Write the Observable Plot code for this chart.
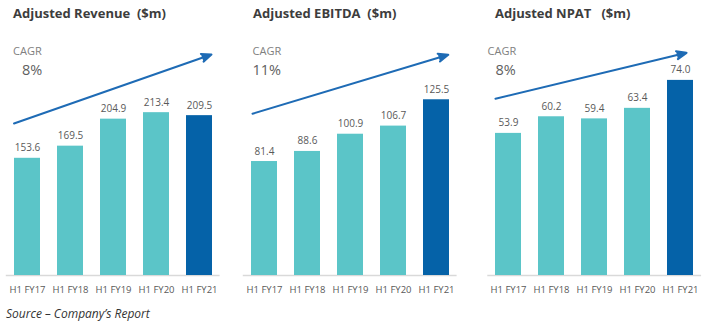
<!DOCTYPE html>
<html><head><meta charset="utf-8">
<script src="https://cdn.jsdelivr.net/npm/d3@7"></script>
<script src="https://cdn.jsdelivr.net/npm/@observablehq/plot@0.6"></script>
<style>
body{margin:0;background:#fff;}
#wrap{position:relative;width:708px;height:324px;overflow:hidden;font-family:"Open Sans",sans-serif;}
#wrap svg{position:absolute;left:0;top:0;overflow:visible;}
</style></head><body><div id="wrap"></div>
<script>
// ---- data ----
const periods = ["H1 FY17", "H1 FY18", "H1 FY19", "H1 FY20", "H1 FY21"];
const revenue = [153.6, 169.5, 204.9, 213.4, 209.5];
const ebitda  = [81.4, 88.6, 100.9, 106.7, 125.5];
const npat    = [53.9, 60.2, 59.4, 63.4, 74.0];
const titles  = ["Adjusted Revenue  ($m)", "Adjusted EBITDA  ($m)", "Adjusted NPAT   ($m)"];
const cagrLabel = "CAGR";
const cagrValues = ["8%", "11%", "8%"];
// trend-arrow annotation, in each panel's value units (first → last period)
const arrowFrom = [205.4, 118.1, 68.2];
const arrowTo   = [284.1, 155.1, 83.9];
const source = "Source \u2013 Company\u2019s Report";

// ---- layout ----
const W = 708, H = 324;
const teal = "#5BC5C8", navy = "#0562A8", arrowColor = "#1E6BB5";
const panels = [
  {values: revenue, left: 5.8,   right: 219.6, yMax: 360.4, insS: 14.3, insE: 12.7, tx: 13,  cx: 13,  vx: 22},
  {values: ebitda,  left: 242.8, right: 456.6, yMax: 196.4, insS: 12.5, insE: 12.3, tx: 253, cx: 252.5, vx: 252.5},
  {values: npat,    left: 487.3, right: 701.1, yMax: 104.3, insS: 13.4, insE: 6.2,  tx: 495, cx: 487.5, vx: 495.5}
];
const wrap = document.getElementById("wrap");
const fmt = d3.format(".1f");

panels.forEach((p, k) => {
  const data = periods.map((period, i) => ({period, value: p.values[i]}));
  const chart = Plot.plot({
    width: W, height: H,
    marginLeft: p.left, marginRight: W - p.right, marginTop: 0, marginBottom: 49,
    style: {fontFamily: "'Open Sans', sans-serif", fontSize: "9.5px", color: "#595959", background: "transparent"},
    x: {domain: periods, paddingInner: 0.4, paddingOuter: 0.18, tickSize: 0, tickPadding: 11, label: null},
    y: {domain: [0, p.yMax], axis: null},
    color: {domain: ["prior", "latest"], range: [teal, navy]},
    marks: [
      Plot.ruleY([0], {stroke: "#d9d9d9", strokeWidth: 1.5}),
      Plot.barY(data, {x: "period", y: "value", fill: d => d.period === periods[periods.length - 1] ? "latest" : "prior"}),
      Plot.text(data, {x: "period", y: "value", text: d => fmt(d.value), dy: -7, lineAnchor: "bottom", fill: "#595959", fontSize: 10}),
      Plot.arrow([{a: periods[0], b: periods[periods.length - 1], y1: arrowFrom[k], y2: arrowTo[k]}],
        {x1: "a", x2: "b", y1: "y1", y2: "y2", stroke: arrowColor, fill: arrowColor, strokeWidth: 2,
         headLength: 8, headAngle: 45, strokeLinejoin: "miter",
         insetStart: -p.insS, insetEnd: -p.insE})
    ]
  });
  wrap.appendChild(chart);
});

// titles, CAGR annotations and source
const svg = d3.select(wrap).append("svg").attr("width", W).attr("height", H)
  .style("font-family", "'Open Sans', sans-serif");
panels.forEach((p, k) => {
  svg.append("text").attr("x", p.tx).attr("y", 18).attr("fill", "#3d3d3d")
    .attr("font-weight", 700).attr("font-size", 13).attr("xml:space", "preserve")
    .style("white-space", "pre").text(titles[k]);
  svg.append("text").attr("x", p.cx).attr("y", 55).attr("fill", "#808080")
    .attr("font-size", 11).text(cagrLabel);
  svg.append("text").attr("x", p.vx).attr("y", 74.5).attr("fill", "#5f5f5f")
    .attr("font-size", 14.5).text(cagrValues[k]);
});
svg.append("text").attr("x", 6).attr("y", 317.5).attr("fill", "#333")
  .attr("font-style", "italic").attr("font-size", 12).text(source);
</script>
</body></html>
